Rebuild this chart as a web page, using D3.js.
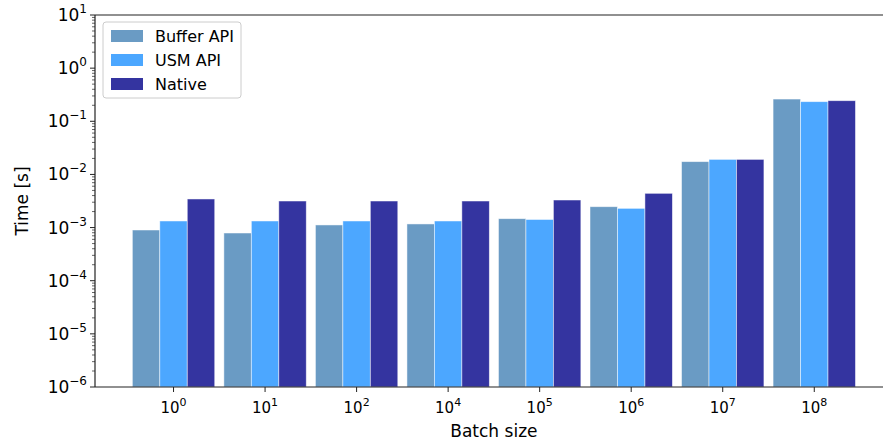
<!DOCTYPE html>
<html>
<head>
<meta charset="utf-8">
<script src="https://cdn.jsdelivr.net/npm/d3@7"></script>
<style>
  body { margin: 0; background: #fff; }
  text { font-family: "DejaVu Sans", sans-serif; fill: #000; }
</style>
</head>
<body>
<div id="chart-area"></div>
<script>
// data
const batchExp = ["0", "1", "2", "4", "5", "6", "7", "8"];
const seriesNames = ["Buffer API", "USM API", "Native"];
const bufferApi = [9.0e-4, 7.9e-4, 1.12e-3, 1.17e-3, 1.47e-3, 2.47e-3, 0.0174, 0.262];
const usmApi    = [1.33e-3, 1.33e-3, 1.33e-3, 1.33e-3, 1.42e-3, 2.30e-3, 0.0192, 0.234];
const native    = [3.45e-3, 3.16e-3, 3.16e-3, 3.16e-3, 3.30e-3, 4.41e-3, 0.0192, 0.244];
const yTickExp = [-6, -5, -4, -3, -2, -1, 0, 1];

const colors = ["#6a9bc4", "#4ca7ff", "#3434a0"];
const series = [bufferApi, usmApi, native];

const W = 883, H = 447;
const margin = {top: 15, right: 1, bottom: 60, left: 95};

const svg = d3.select("#chart-area").append("svg")
    .attr("width", W).attr("height", H);

// scales
const x = d3.scaleLinear().domain([-0.858, 7.74]).range([margin.left, W - margin.right]);
const y = d3.scaleLog().domain([1e-6, 10]).range([H - margin.bottom, margin.top]);
const barW = 0.3;

// bars
series.forEach(function (vals, s) {
    svg.append("g").selectAll("rect").data(vals).enter().append("rect")
        .attr("x", (d, i) => x(i + (s - 1) * barW - barW / 2))
        .attr("width", x(barW) - x(0))
        .attr("y", d => y(d))
        .attr("height", d => y(1e-6) - y(d))
        .attr("fill", colors[s])
        .attr("stroke", "#ffffff")
        .attr("stroke-opacity", 0.6)
        .attr("stroke-width", 0.8);
});

const axisColor = "#222";

// spines
const sp = svg.append("g").attr("stroke", axisColor).attr("stroke-width", 1.2);
sp.append("line").attr("x1", margin.left).attr("x2", margin.left).attr("y1", margin.top).attr("y2", H - margin.bottom);
sp.append("line").attr("x1", margin.left).attr("x2", W).attr("y1", margin.top).attr("y2", margin.top);
sp.append("line").attr("x1", margin.left).attr("x2", W).attr("y1", H - margin.bottom).attr("y2", H - margin.bottom);

// y ticks (major + minor)
const yg = svg.append("g");
yTickExp.forEach(function (e) {
    const yy = y(Math.pow(10, e));
    yg.append("line").attr("x1", margin.left - 5).attr("x2", margin.left)
        .attr("y1", yy).attr("y2", yy).attr("stroke", axisColor).attr("stroke-width", 1);
    const t = yg.append("text").attr("x", margin.left - 8).attr("y", yy + 6)
        .attr("text-anchor", "end").style("font-size", "17px");
    t.append("tspan").text("10");
    t.append("tspan").attr("dy", -8).style("font-size", "12px").text(e < 0 ? "\u2212" + (-e) : e);
    if (e < 1) {
        for (let k = 2; k <= 9; k++) {
            const ym = y(k * Math.pow(10, e));
            yg.append("line").attr("x1", margin.left - 3).attr("x2", margin.left)
                .attr("y1", ym).attr("y2", ym).attr("stroke", axisColor).attr("stroke-width", 0.7);
        }
    }
});

// x ticks
const xg = svg.append("g");
batchExp.forEach(function (e, i) {
    const xx = x(i);
    xg.append("line").attr("x1", xx).attr("x2", xx)
        .attr("y1", H - margin.bottom).attr("y2", H - margin.bottom + 5)
        .attr("stroke", axisColor).attr("stroke-width", 1);
    const t = xg.append("text").attr("x", xx).attr("y", H - margin.bottom + 26)
        .attr("text-anchor", "middle").style("font-size", "15px");
    t.append("tspan").text("10");
    t.append("tspan").attr("dy", -7).style("font-size", "11px").text(e);
});

// axis labels
svg.append("text").attr("x", x(3.5)).attr("y", 437)
    .attr("text-anchor", "middle").style("font-size", "17px").text("Batch size");
svg.append("text").attr("transform", "translate(28," + y(Math.pow(10, -2.5)) + ") rotate(-90)")
    .attr("text-anchor", "middle").style("font-size", "17px").text("Time [s]");

// legend
const lg = svg.append("g").attr("transform", "translate(103,22)");
lg.append("rect").attr("width", 138).attr("height", 76).attr("rx", 3)
    .attr("fill", "#fff").attr("fill-opacity", 0.8).attr("stroke", "#ccc").attr("stroke-width", 1);
seriesNames.forEach(function (n, i) {
    lg.append("rect").attr("x", 8).attr("y", 8 + i * 24).attr("width", 32).attr("height", 12)
        .attr("fill", colors[i]);
    lg.append("text").attr("x", 52).attr("y", 19.5 + i * 24).style("font-size", "16px").text(n);
});
</script>
</body>
</html>
